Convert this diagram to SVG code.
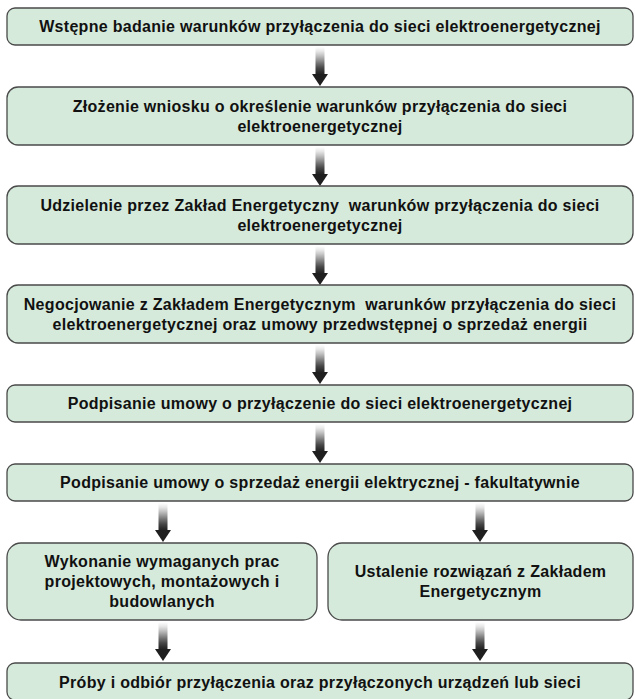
<svg xmlns="http://www.w3.org/2000/svg" width="635" height="699" viewBox="0 0 635 699">
<style>
.box{fill:#d5eadb;stroke:#4a4a4a;stroke-width:1.3}
.t{font-family:"Liberation Sans",Arial,sans-serif;font-weight:bold;font-size:16px;letter-spacing:0.3px;fill:#111;text-anchor:middle;white-space:pre}
.shaft{fill:url(#g)}
.head{fill:#1f1f1f}
</style>
<defs>
<linearGradient id="g" x1="0" y1="0" x2="0" y2="1">
<stop offset="0" stop-color="#ffffff"/>
<stop offset="0.15" stop-color="#e8e8e8"/>
<stop offset="0.3" stop-color="#c4c4c4"/>
<stop offset="0.45" stop-color="#9a9a9a"/>
<stop offset="0.6" stop-color="#6e6e6e"/>
<stop offset="0.75" stop-color="#474747"/>
<stop offset="0.9" stop-color="#2c2c2c"/>
<stop offset="1" stop-color="#1f1f1f"/>
</linearGradient>
<g id="arr">
<rect class="shaft" x="-4.5" y="0" width="9" height="28"/>
<polygon class="head" points="-8,27 8,27 0,39"/>
</g>
</defs>
<g id="connectors">
<use href="#arr" x="320" y="47"/>
<use href="#arr" x="320" y="147"/>
<use href="#arr" x="320" y="246"/>
<use href="#arr" x="320" y="345"/>
<use href="#arr" x="320" y="424"/>
<use href="#arr" x="163" y="503"/>
<use href="#arr" x="480" y="503"/>
<use href="#arr" x="163" y="622"/>
<use href="#arr" x="480" y="622"/>
</g>
<g id="n1">
<rect class="box" x="7" y="8" width="626" height="37" rx="8"/>
<text class="t" x="320" y="32">Wstępne badanie warunków przyłączenia do sieci elektroenergetycznej</text>
</g>
<g id="n2">
<rect class="box" x="7" y="87" width="626" height="58" rx="11"/>
<text class="t" x="320" y="112">Złożenie wniosku o określenie warunków przyłączenia do sieci</text>
<text class="t" x="320" y="131.5">elektroenergetycznej</text>
</g>
<g id="n3">
<rect class="box" x="7" y="186" width="626" height="58" rx="11"/>
<text class="t" x="320" y="211">Udzielenie przez Zakład Energetyczny  warunków przyłączenia do sieci</text>
<text class="t" x="320" y="230.5">elektroenergetycznej</text>
</g>
<g id="n4">
<rect class="box" x="7" y="285" width="626" height="58" rx="11"/>
<text class="t" x="320" y="310">Negocjowanie z Zakładem Energetycznym  warunków przyłączenia do sieci</text>
<text class="t" x="320" y="329.5">elektroenergetycznej oraz umowy przedwstępnej o sprzedaż energii</text>
</g>
<g id="n5">
<rect class="box" x="7" y="385" width="626" height="37" rx="8"/>
<text class="t" x="320" y="409">Podpisanie umowy o przyłączenie do sieci elektroenergetycznej</text>
</g>
<g id="n6">
<rect class="box" x="7" y="464" width="626" height="37" rx="8"/>
<text class="t" x="320" y="488">Podpisanie umowy o sprzedaż energii elektrycznej - fakultatywnie</text>
</g>
<g id="n7a">
<rect class="box" x="7" y="543" width="310" height="77" rx="14"/>
<text class="t" x="162" y="567">Wykonanie wymaganych prac</text>
<text class="t" x="162" y="587">projektowych, montażowych i</text>
<text class="t" x="162" y="607">budowlanych</text>
</g>
<g id="n7b">
<rect class="box" x="328" y="543" width="305" height="77" rx="14"/>
<text class="t" x="480.5" y="577">Ustalenie rozwiązań z Zakładem</text>
<text class="t" x="480.5" y="597">Energetycznym</text>
</g>
<g id="n8">
<rect class="box" x="7" y="663" width="626" height="37" rx="8"/>
<text class="t" x="320" y="687.5">Próby i odbiór przyłączenia oraz przyłączonych urządzeń lub sieci</text>
</g>
</svg>
